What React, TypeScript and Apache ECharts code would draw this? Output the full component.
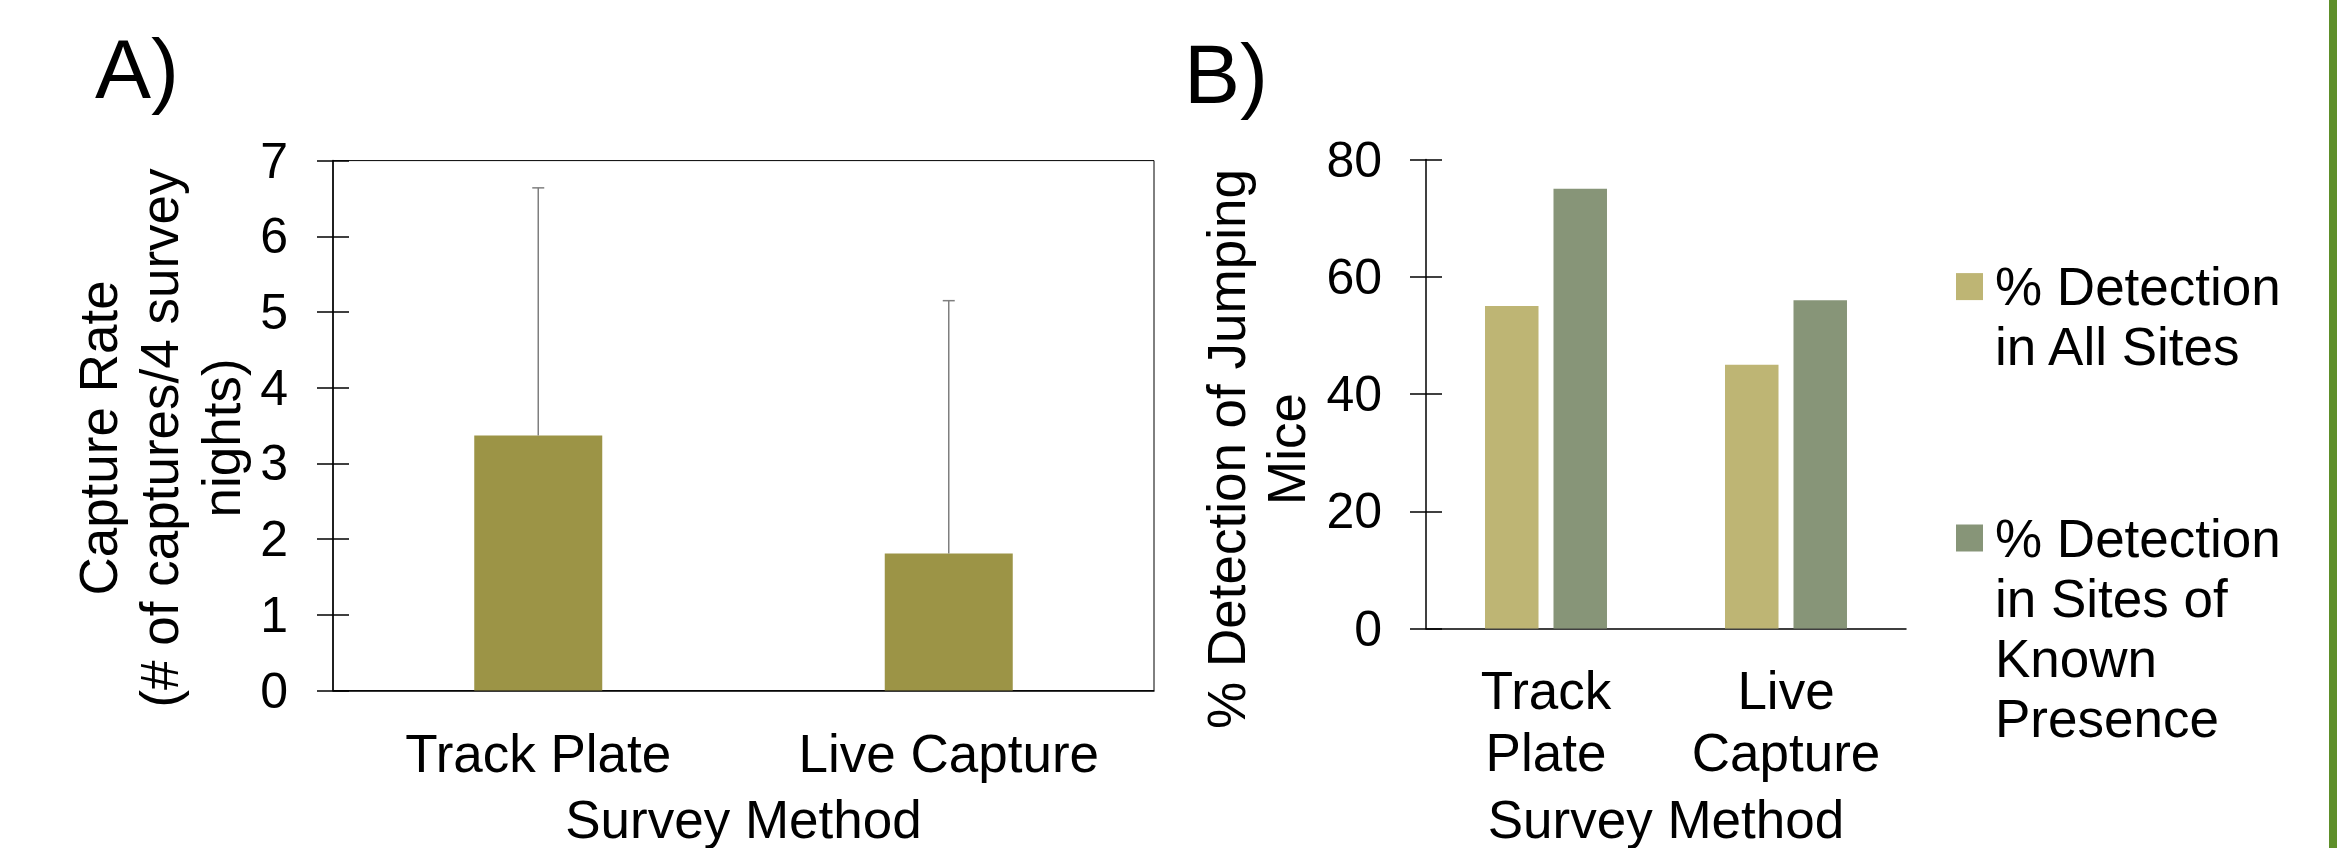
import React, { useEffect, useRef } from "react";
import * as echarts from "echarts";

// ---- Data ----
const catsA = ["Track Plate", "Live Capture"];
const captureRate = [3.37, 1.81];
const captureRateUpper = [6.64, 5.15];
const yTicksA = [0, 1, 2, 3, 4, 5, 6, 7];

const catsB = ["Track Plate", "Live Capture"];
const seriesNamesB = [
  "% Detection in All Sites",
  "% Detection in Sites of Known Presence",
];
const legendLinesB = [
  ["% Detection", "in All Sites"],
  ["% Detection", "in Sites of", "Known", "Presence"],
];
const detectAll = [55, 45];
const detectKnown = [75, 56];
const yTicksB = [0, 20, 40, 60, 80];

const FONT = "'Liberation Sans', Arial, Helvetica, sans-serif";
const COLOR_A = "#9C9446";
const COLOR_B1 = "#BEB574";
const COLOR_B2 = "#879578";

function legendFormatter(name: string) {
  const lines = legendLinesB[seriesNamesB.indexOf(name)] || [name];
  return "\n".repeat(lines.length - 1) + lines.join("\n");
}

function valueAxisPair(gridIndex: number, ticks: number[], margin: number) {
  const min = ticks[0];
  const max = ticks[ticks.length - 1];
  const interval = ticks[1] - ticks[0];
  return [
    {
      type: "value",
      gridIndex,
      position: "left",
      offset: 0,
      min,
      max,
      interval,
      axisLine: { show: true, lineStyle: { color: "#000", width: 1.5 } },
      axisTick: { show: true, inside: false, length: 16, lineStyle: { color: "#000", width: 1.5 } },
      splitLine: { show: false },
      axisLabel: { fontSize: 50, color: "#000", margin, fontFamily: FONT },
    },
    {
      type: "value",
      gridIndex,
      position: "left",
      offset: 0,
      min,
      max,
      interval,
      axisLine: { show: false },
      axisTick: { show: true, inside: true, length: 16, lineStyle: { color: "#000", width: 1.5 } },
      splitLine: { show: false },
      axisLabel: { show: false },
    },
  ];
}

export default function App() {
  const ref = useRef<HTMLDivElement>(null);

  useEffect(() => {
    if (!ref.current) return;
    const chart = echarts.init(ref.current, null, { renderer: "svg" });

    const errStyle = { stroke: "#7F7F7F", lineWidth: 1.5 };

    const legendCommon = {
      orient: "vertical",
      left: 1956,
      padding: 0,
      itemWidth: 27,
      itemHeight: 27,
      icon: "rect",
      selectedMode: false,
      formatter: legendFormatter,
      textStyle: {
        fontSize: 53,
        lineHeight: 60,
        color: "#000",
        fontFamily: FONT,
        padding: [0, 0, 0, 7],
      },
    };

    const option: any = {
      animation: false,
      backgroundColor: "#fff",
      textStyle: { fontFamily: FONT },
      grid: [
        {
          left: 333,
          top: 160.6,
          width: 821,
          height: 530,
          show: true,
          borderColor: "#000",
          borderWidth: 1,
          backgroundColor: "transparent",
          outerBoundsMode: "none",
        },
        { left: 1426, top: 159.5, width: 480, height: 469, outerBoundsMode: "none" },
      ],
      xAxis: [
        {
          type: "category",
          gridIndex: 0,
          data: catsA,
          axisTick: { show: false },
          axisLine: { lineStyle: { color: "#000", width: 1.5 } },
          axisLabel: {
            interval: 0,
            fontSize: 53,
            color: "#000",
            margin: 63,
            verticalAlign: "middle",
            fontFamily: FONT,
          },
          name: "Survey Method",
          nameLocation: "middle",
          nameGap: 129,
          nameTextStyle: { fontSize: 53, color: "#000", verticalAlign: "middle", fontFamily: FONT },
        },
        {
          type: "category",
          gridIndex: 1,
          data: catsB,
          axisTick: { show: false },
          axisLine: { lineStyle: { color: "#000", width: 1.5 } },
          axisLabel: {
            interval: 0,
            hideOverlap: false,
            fontSize: 53,
            lineHeight: 62,
            color: "#000",
            margin: 93,
            verticalAlign: "middle",
            fontFamily: FONT,
            formatter: (v: string) => v.replace(" ", "\n"),
          },
          name: "Survey Method",
          nameLocation: "middle",
          nameGap: 191,
          nameTextStyle: { fontSize: 53, color: "#000", verticalAlign: "middle", fontFamily: FONT },
        },
      ],
      yAxis: [...valueAxisPair(0, yTicksA, 45), ...valueAxisPair(1, yTicksB, 44)],
      legend: [
        { ...legendCommon, data: [seriesNamesB[0]], top: 196.6 },
        { ...legendCommon, data: [seriesNamesB[1]], top: 328 },
      ],
      series: [
        {
          type: "bar",
          name: "Capture Rate",
          xAxisIndex: 0,
          yAxisIndex: 0,
          data: captureRate,
          barWidth: 128,
          itemStyle: { color: COLOR_A },
        },
        {
          type: "custom",
          name: "Error",
          xAxisIndex: 0,
          yAxisIndex: 0,
          z: 5,
          encode: { x: 0, y: [1, 2] },
          data: captureRate.map((v, i) => [i, v, captureRateUpper[i]]),
          renderItem: (params: any, api: any) => {
            const i = api.value(0);
            const lo = api.coord([i, api.value(1)]);
            const hi = api.coord([i, api.value(2)]);
            return {
              type: "group",
              children: [
                { type: "line", shape: { x1: lo[0], y1: lo[1], x2: hi[0], y2: hi[1] }, style: errStyle },
                { type: "line", shape: { x1: hi[0] - 6, y1: hi[1], x2: hi[0] + 6, y2: hi[1] }, style: errStyle },
              ],
            };
          },
        },
        {
          type: "bar",
          name: seriesNamesB[0],
          xAxisIndex: 1,
          yAxisIndex: 2,
          data: detectAll,
          barWidth: 53.5,
          barGap: "28%",
          itemStyle: { color: COLOR_B1 },
        },
        {
          type: "bar",
          name: seriesNamesB[1],
          xAxisIndex: 1,
          yAxisIndex: 2,
          data: detectKnown,
          barWidth: 53.5,
          barGap: "28%",
          itemStyle: { color: COLOR_B2 },
        },
      ],
      graphic: [
        {
          type: "text",
          x: 95,
          y: 69.2,
          style: { text: "A)", fontSize: 84, fontFamily: FONT, fill: "#000", align: "left", verticalAlign: "middle" },
        },
        {
          type: "text",
          x: 1184,
          y: 73.6,
          style: { text: "B)", fontSize: 84, fontFamily: FONT, fill: "#000", align: "left", verticalAlign: "middle" },
        },
        {
          type: "text",
          x: 159.9,
          y: 438,
          rotation: Math.PI / 2,
          style: {
            text: "Capture Rate\n(# of captures/4 survey\nnights)",
            fontSize: 53,
            lineHeight: 61.6,
            fontFamily: FONT,
            fill: "#000",
            align: "center",
            verticalAlign: "middle",
          },
        },
        {
          type: "text",
          x: 1256,
          y: 449,
          rotation: Math.PI / 2,
          style: {
            text: "% Detection of Jumping\nMice",
            fontSize: 53,
            lineHeight: 60,
            fontFamily: FONT,
            fill: "#000",
            align: "center",
            verticalAlign: "middle",
          },
        },
        {
          type: "rect",
          shape: { x: 2329, y: 0, width: 8, height: 848 },
          style: { fill: "#5E8F2A" },
        },
      ],
    };

    chart.setOption(option);
    return () => chart.dispose();
  }, []);

  return (
    <div
      ref={ref}
      style={{ position: "absolute", left: 0, top: 0, width: 2337, height: 848, background: "#fff" }}
    />
  );
}
